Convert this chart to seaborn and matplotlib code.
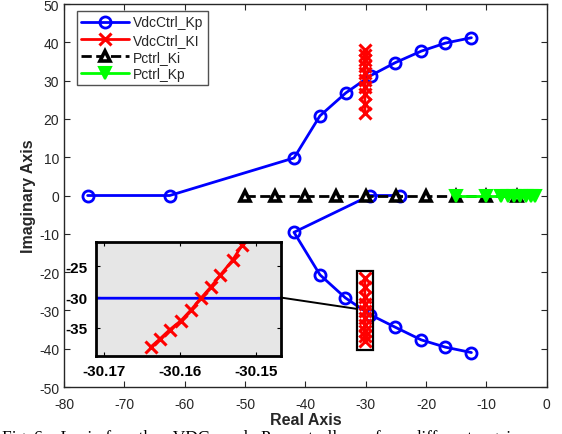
import seaborn as sns
import matplotlib
matplotlib.use("Agg")
import matplotlib.pyplot as plt
from matplotlib.patches import Rectangle, ConnectionPatch
import numpy as np

# root locus data
kp_re_upper = [-76.1, -62.5, -41.9, -37.6, -33.3, -29.2, -25.1, -20.8, -16.8, -12.5]
kp_im_upper = [0.0, 0.0, 9.8, 20.8, 26.8, 31.3, 34.7, 37.7, 39.8, 41.2]
kp_re_lower = [-24.4, -29.3, -41.9, -37.6, -33.4, -29.3, -25.1, -20.8, -16.8, -12.5]
kp_im_lower = [0.0, 0.0, -9.6, -20.7, -26.7, -31.1, -34.4, -37.7, -39.6, -41.0]

ki_re = [-30.1639, -30.1627, -30.1614, -30.1599, -30.1586, -30.1573, -30.1560, -30.1547, -30.1531, -30.1518]
ki_im = [-38.1, -36.8, -35.3, -33.8, -32.1, -30.2, -28.4, -26.4, -24.0, -21.5]

pki_re = [-50, -45, -40, -35, -30, -25, -20, -15, -10, -5]
pki_im = [0] * 10

pkp_re = [-15, -10, -7.6, -6.5, -5.4, -4.4, -3.5, -2.7, -2.0]
pkp_im = [0] * 9

legend_labels = ["VdcCtrl_Kp", "VdcCtrl_KI", "Pctrl_Ki", "Pctrl_Kp"]
caption = "Fig. 6:   Loci   for   the   VDC   and   P   controllers    for    different    gains"

sns.set_style("ticks")
plt.rcParams['font.family'] = ['Liberation Sans', 'DejaVu Sans']
plt.rcParams['axes.unicode_minus'] = False

fig = plt.figure(figsize=(5.62, 4.35), dpi=100)
ax = fig.add_axes([0.114, 0.108, 0.859, 0.8805])

def draw_all(a, ms=8):
    sns.lineplot(x=kp_re_upper, y=kp_im_upper, sort=False, estimator=None, ax=a,
                 color='#0000ff', linewidth=2, marker='o', markersize=ms,
                 markerfacecolor='none', markeredgecolor='#0000ff', markeredgewidth=2,
                 label=legend_labels[0])
    sns.lineplot(x=kp_re_lower, y=kp_im_lower, sort=False, estimator=None, ax=a,
                 color='#0000ff', linewidth=2, marker='o', markersize=ms,
                 markerfacecolor='none', markeredgecolor='#0000ff', markeredgewidth=2)
    sns.lineplot(x=ki_re, y=ki_im, sort=False, estimator=None, ax=a,
                 color='#ff0000', linewidth=2, marker='x', markersize=ms,
                 markeredgecolor='#ff0000', markeredgewidth=2.2, label=legend_labels[1])
    sns.lineplot(x=ki_re, y=[-v for v in ki_im], sort=False, estimator=None, ax=a,
                 color='#ff0000', linewidth=2, marker='x', markersize=ms,
                 markeredgecolor='#ff0000', markeredgewidth=2.2)
    sns.lineplot(x=pki_re, y=pki_im, sort=False, estimator=None, ax=a,
                 color='black', linewidth=2, linestyle='--', marker='^', markersize=6.5,
                 markerfacecolor='white', markeredgecolor='black', markeredgewidth=2.6,
                 label=legend_labels[2])
    sns.lineplot(x=pkp_re, y=pkp_im, sort=False, estimator=None, ax=a,
                 color='#00ff00', linewidth=2, marker='v', markersize=8,
                 markerfacecolor='#00ff00', markeredgecolor='#00ff00', markeredgewidth=1.5,
                 label=legend_labels[3])

draw_all(ax)

ax.set_xlim(-80, 0)
ax.set_ylim(-50, 50)
ax.set_xticks(np.arange(-80, 1, 10))
ax.set_yticks(np.arange(-50, 51, 10))
ax.tick_params(direction='in', top=True, right=True, labelsize=10, colors='#262626', length=4)
ax.tick_params(axis='x', pad=7)
for s in ax.spines.values():
    s.set_color('#262626')
    s.set_linewidth(1.0)
ax.set_xlabel("Real Axis", fontsize=11.5, fontweight='bold', color='#262626', labelpad=1)
ax.set_ylabel("Imaginary Axis", fontsize=11.5, fontweight='bold', color='#262626', labelpad=2)

leg = ax.legend(loc='upper left', bbox_to_anchor=(0.02, 0.99), fontsize=10, frameon=True,
                fancybox=False, edgecolor='#262626', handlelength=3.4, borderpad=0.35,
                labelspacing=0.22, handletextpad=0.3, borderaxespad=0.2)
leg.get_frame().set_linewidth(1.0)

# zoom rectangle around lower VdcCtrl_KI cluster
ax.add_patch(Rectangle((-31.5, -40.4), 2.7, 20.7, fill=False, edgecolor='black', linewidth=1.6, zorder=5))

# inset
axin = fig.add_axes([0.171, 0.180, 0.329, 0.262])
axin.set_facecolor('#e6e6e6')
draw_all(axin, ms=9)
if axin.get_legend() is not None:
    axin.get_legend().remove()
axin.set_xlim(-30.1711, -30.1467)
axin.set_ylim(-39.5, -21.0)
axin.set_xticks([-30.17, -30.16, -30.15])
axin.set_xticklabels(["-30.17", "-30.16", "-30.15"])
axin.set_yticks([-25, -30, -35])
axin.set_yticklabels(["-25", "-30", "-35"])
axin.tick_params(direction='in', top=True, right=True, labelsize=11, length=3, colors='black', pad=6)
for lab in axin.get_xticklabels() + axin.get_yticklabels():
    lab.set_fontweight('bold')
for s in axin.spines.values():
    s.set_color('black')
    s.set_linewidth(2)
axin.set_xlabel("")
axin.set_ylabel("")

con = ConnectionPatch(xyA=(1.0, 0.51), coordsA=axin.transAxes,
                      xyB=(-31.5, -29.6), coordsB=ax.transData,
                      color='black', linewidth=1.4)
fig.add_artist(con)

fig.text(0.004, -0.016, caption, fontsize=12.5, family=['Liberation Serif', 'DejaVu Serif'],
         va='baseline', ha='left', color='black')

fig.savefig("out.png", dpi=100)
